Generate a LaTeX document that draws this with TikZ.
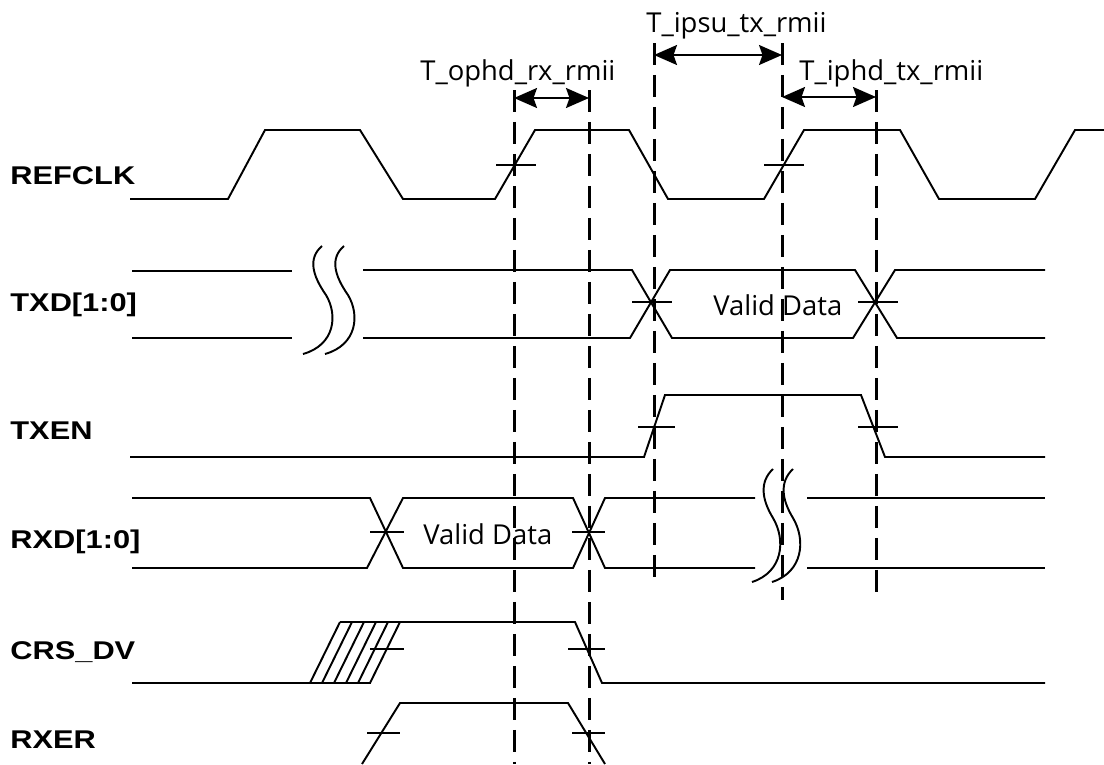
\documentclass[tikz,border=0pt]{standalone}
\usepackage{fontspec}
\setmainfont{Open Sans}
\newfontfamily\labelfont{Liberation Sans}
\usetikzlibrary{arrows.meta}
\begin{document}
\begin{tikzpicture}[x=0.02cm,y=-0.02cm,
  wave/.style={line width=1.1pt, line join=miter},
  tick/.style={line width=1.0pt},
  guide/.style={line width=1.7pt, dash pattern=on 0.44cm off 0.2cm},
  timearrow/.style={line width=1.1pt,
    {Stealth[length=0.46cm,width=0.4cm,inset=0.07cm]}-{Stealth[length=0.46cm,width=0.4cm,inset=0.07cm]}},
  siglabel/.style={anchor=base west, inner sep=0pt,
    font=\labelfont\bfseries\fontsize{14.6}{17}\selectfont, xscale=1.2},
  timelabel/.style={anchor=base west, inner sep=0pt,
    font=\fontsize{15.6}{18}\selectfont},
  datalabel/.style={anchor=base west, inner sep=0pt,
    font=\fontsize{15.6}{18}\selectfont}]
\useasboundingbox (0,0) rectangle (1104,764);

% signal labels
\node[siglabel] (lrefclk) at (10,184) {REFCLK};
\node[siglabel] (ltxd) at (10,311) {TXD[1:0]};
\node[siglabel] (ltxen) at (10,439) {TXEN};
\node[siglabel] (lrxd) at (10,548) {RXD[1:0]};
\node[siglabel] (lcrs) at (10,659) {CRS\_DV};
\node[siglabel] (lrxer) at (10,748) {RXER};

% REFCLK
\draw[wave] (130,199) -- (228,199) -- (265,130) -- (360,130) -- (403,199) -- (495,199)
  -- (535,130) -- (629,130) -- (668,199) -- (764,199) -- (804,130) -- (900,130)
  -- (939,199) -- (1035,199) -- (1075,130) -- (1104,130);
\draw[tick] (496,165) -- (536,165);
\draw[tick] (764,165) -- (804,165);

% TXD
\draw[wave] (132,271) -- (292,271);
\draw[wave] (132,338) -- (292,338);
\draw[wave] (363,270) -- (632,270) -- (672,338) -- (853,338) -- (895,270) -- (1045,270);
\draw[wave] (363,338) -- (630,338) -- (670,270) -- (855,270) -- (897,338) -- (1045,338);
\draw[tick] (632,302) -- (672,302);
\draw[tick] (858,302) -- (898,302);
\draw[wave] (322,246) .. controls (308,258) and (312,275) .. (326,295)
  .. controls (338,315) and (335,345) .. (303,354);
\draw[wave] (344,246) .. controls (330,258) and (334,275) .. (348,295)
  .. controls (360,315) and (357,345) .. (325,354);
\node[datalabel] (vd1) at (713,315) {Valid Data};

% TXEN
\draw[wave] (130,457) -- (644,457) -- (665,395) -- (861,395) -- (885,457) -- (1045,457);
\draw[tick] (638,427) -- (675,427);
\draw[tick] (858,427) -- (898,427);

% RXD
\draw[wave] (132,498) -- (370,498) -- (403,568) -- (573,568) -- (605,498) -- (755,498);
\draw[wave] (132,568) -- (367,568) -- (403,498) -- (573,498) -- (605,568) -- (755,568);
\draw[wave] (807,498) -- (1045,498);
\draw[wave] (807,568) -- (1045,568);
\draw[tick] (370,532) -- (404,532);
\draw[tick] (572,532) -- (605,532);
\draw[wave] (773,469) .. controls (759,482) and (762,500) .. (773,518)
  .. controls (786,540) and (783,572) .. (752,582);
\draw[wave] (793,469) .. controls (779,482) and (782,500) .. (793,518)
  .. controls (806,540) and (803,572) .. (772,582);
\node[datalabel] (vd2) at (423,544) {Valid Data};

% CRS_DV
\draw[wave] (132,683) -- (371,683);
\draw[wave] (340,622) -- (575,622) -- (602,683) -- (1045,683);
\foreach \k in {0,...,5} {
  \draw[wave] ({310+12*\k},683) -- ({340+12*\k},622);
}
\draw[tick] (370,649) -- (404,649);
\draw[tick] (568,649) -- (605,649);

% RXER
\draw[wave] (362,764) -- (400,703) -- (568,703) -- (605,764);
\draw[tick] (367,733) -- (400,733);
\draw[tick] (572,733) -- (605,733);

% guide lines
\coordinate (g1t) at (514,90);  \coordinate (g1b) at (514,764);
\coordinate (g2t) at (589,90);  \coordinate (g2b) at (589,764);
\coordinate (g3t) at (654,43);  \coordinate (g3b) at (654,585);
\coordinate (g4t) at (782,43);  \coordinate (g4b) at (782,600);
\coordinate (g5t) at (876,90);  \coordinate (g5b) at (876,600);
\foreach \g in {1,...,5} { \draw[guide] (g\g t) -- (g\g b); }

% timing arrows
\coordinate (a1l) at (514,98); \coordinate (a1r) at (589,98);
\coordinate (a2l) at (654,55); \coordinate (a2r) at (782,55);
\coordinate (a3l) at (782,97); \coordinate (a3r) at (876,97);
\draw[timearrow] (a1l) -- (a1r);
\draw[timearrow] (a2l) -- (a2r);
\draw[timearrow] (a3l) -- (a3r);

\node[timelabel] (t1) at (420,80) {T\_ophd\_rx\_rmii};
\node[timelabel] (t2) at (646,32) {T\_ipsu\_tx\_rmii};
\node[timelabel] (t3) at (799,80) {T\_iphd\_tx\_rmii};
\end{tikzpicture}
\end{document}
